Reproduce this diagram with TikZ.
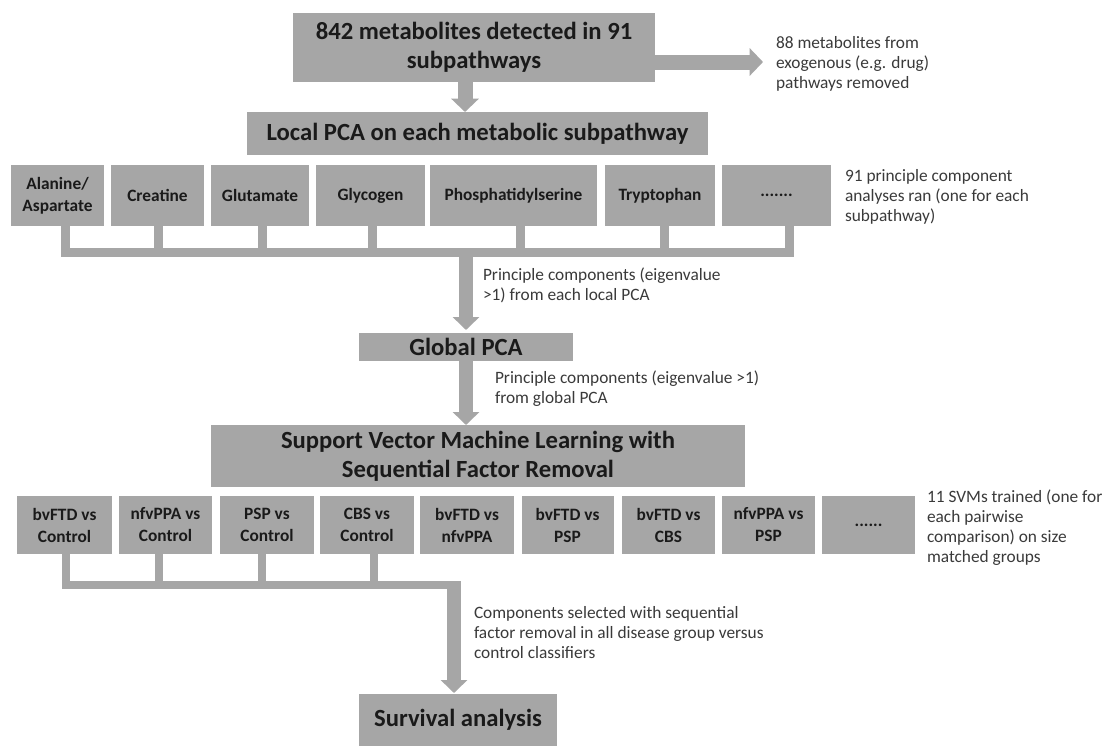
\documentclass[tikz,border=0pt]{standalone}
\usepackage{fontspec}
\setmainfont{Carlito}
\usetikzlibrary{arrows.meta}
\definecolor{boxgray}{HTML}{A6A6A6}
\definecolor{boxtext}{HTML}{1A1A1A}
\definecolor{sidetext}{HTML}{3A3A3A}
\begin{document}
\begin{tikzpicture}[x=0.75pt,y=-0.75pt,
  wh/.style 2 args={minimum width=#1*0.75pt, minimum height=#2*0.75pt},
  box/.style={fill=boxgray, draw=none, inner sep=0pt, outer sep=0pt, text=boxtext,
    font=\fontsize{18.5}{22}\selectfont\bfseries, align=center},
  smallbox/.style={box, font=\fontsize{13}{16.5}\selectfont\bfseries},
  note/.style={anchor=north west, inner sep=0pt, outer sep=0pt, text=sidetext,
    font=\fontsize{13}{15}\selectfont, align=left},
  stub/.style={draw=boxgray, line width=6.75pt},
  stubb/.style={draw=boxgray, line width=6pt},
  bigarrow/.style={draw=boxgray, line width=11.25pt, -{Triangle[width=20.25pt,length=10pt]}},
  arrowc/.style={draw=boxgray, line width=10.5pt, -{Triangle[width=19.5pt,length=9.75pt]}},
]
\useasboundingbox (0,0) rectangle (1102,746);
\fill[white] (0,0) rectangle (1102,746);

% main boxes
\node[box, wh={362}{69}] (top) at (474,47.5) {842 metabolites detected in 91\\subpathways};
\node[box, wh={461}{43}] (lpca) at (477.5,133.5) {Local PCA on each metabolic subpathway};
\node[box, wh={214}{28}] (gpca) at (466,347) {Global PCA};
\node[box, wh={534}{62}] (svm) at (478,456) {Support Vector Machine Learning with\\Sequential Factor Removal};
\node[box, wh={198}{52}] (surv) at (458,720) {Survival analysis};

% subpathway row
\node[smallbox, wh={93}{61}] (ala) at (57.5,195.5) {Alanine/\\Aspartate};
\node[smallbox, wh={93}{61}] (cre) at (157.5,195.5) {Creatine};
\node[smallbox, wh={98}{61}] (glu) at (260,195.5) {Glutamate};
\node[smallbox, wh={109}{61}] (gly) at (370.5,195.5) {Glycogen};
\node[smallbox, wh={167}{61}] (pho) at (513.5,195.5) {Phosphatidylserine};
\node[smallbox, wh={110}{61}] (try) at (660,195.5) {Tryptophan};
\node[smallbox, wh={109}{61}] (dotsa) at (776.5,195.5) {.......};

% SVM row
\node[smallbox, wh={95}{58}] (c1) at (64.5,525) {bvFTD vs\\Control};
\node[smallbox, wh={93}{58}] (c2) at (165.5,525) {nfvPPA vs\\Control};
\node[smallbox, wh={94}{58}] (c3) at (267,525) {PSP vs\\Control};
\node[smallbox, wh={94}{58}] (c4) at (367,525) {CBS vs\\Control};
\node[smallbox, wh={94}{58}] (c5) at (467,525) {bvFTD vs\\nfvPPA};
\node[smallbox, wh={92}{58}] (c6) at (567.5,525) {bvFTD vs\\PSP};
\node[smallbox, wh={93}{58}] (c7) at (668.5,525) {bvFTD vs\\CBS};
\node[smallbox, wh={93}{58}] (c8) at (768.5,525) {nfvPPA vs\\PSP};
\node[smallbox, wh={93}{58}] (c9) at (868.5,525) {......};

% notes
\node[note] (n1) at (776,36) {88 metabolites from\\exogenous (e.g. drug)\\pathways removed};
\node[note] (n2) at (845,169) {91 principle component\\analyses ran (one for each\\subpathway)};
\node[note] (n3) at (483,268) {Principle components (eigenvalue\\>1) from each local PCA};
\node[note] (n4) at (495,371) {Principle components (eigenvalue >1)\\from global PCA};
\node[note] (n5) at (927,490) {11 SVMs trained (one for\\each pairwise\\comparison) on size\\matched groups};
\node[note] (n6) at (474,606) {Components selected with sequential\\factor removal in all disease group versus\\control classifiers};

% top arrows
\coordinate (d1) at (465,0);
\draw[bigarrow] (top.south -| d1) -- (lpca.north -| d1);
\coordinate (rtip) at (763,62);
\draw[bigarrow] (top.east |- rtip) -- (rtip);

% subpathway connectors
\coordinate (j1) at (65,252);
\coordinate (j2) at (158,252);
\coordinate (j3) at (262,252);
\coordinate (j4) at (372,252);
\coordinate (j5) at (520,252);
\coordinate (j6) at (664,252);
\coordinate (j7) at (789,252);
\draw[stub] (ala.south -| j1) |- (j7) -- (dotsa.south -| j7);
\draw[stub] (cre.south -| j2) -- (j2);
\draw[stub] (glu.south -| j3) -- (j3);
\draw[stub] (gly.south -| j4) -- (j4);
\draw[stub] (pho.south -| j5) -- (j5);
\draw[stub] (try.south -| j6) -- (j6);
\coordinate (a1) at (466,248);
\draw[arrowc, shorten >=2.25pt] (a1) -- (gpca.north -| a1);
\draw[arrowc] (gpca.south -| a1) -- (svm.north -| a1);

% SVM connectors
\coordinate (k1) at (66,585);
\coordinate (k2) at (159,585);
\coordinate (k3) at (262,585);
\coordinate (k4) at (374,585);
\coordinate (a3) at (454,585);
\coordinate (a3t) at (454,581);
\draw[stubb] (c1.south -| k1) |- (a3);
\draw[stubb] (c2.south -| k2) -- (k2);
\draw[stubb] (c3.south -| k3) -- (k3);
\draw[stubb] (c4.south -| k4) -- (k4);
\draw[arrowc, shorten >=0.75pt] (a3t) -- (surv.north -| a3);
\end{tikzpicture}
\end{document}
